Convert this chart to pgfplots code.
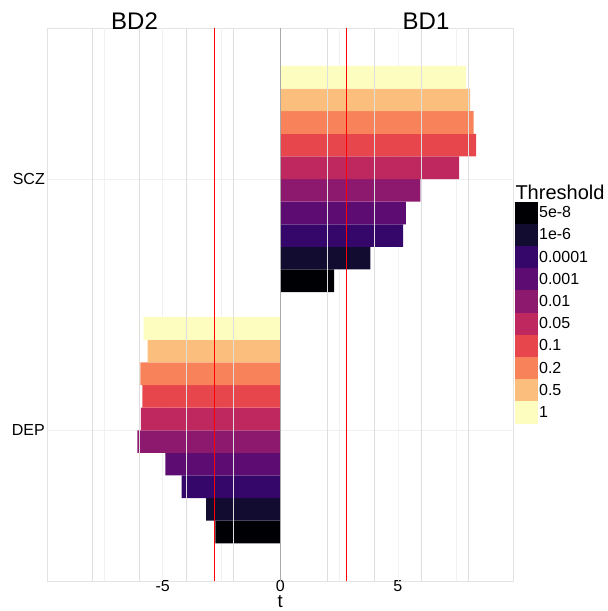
\documentclass[border=0pt]{standalone}
\usepackage{fontspec}
\setmainfont{Liberation Sans}
\usepackage{pgfplots}
\pgfplotsset{compat=1.18}
\definecolor{t1}{HTML}{000004}
\definecolor{t2}{HTML}{120C30}
\definecolor{t3}{HTML}{36076B}
\definecolor{t4}{HTML}{5D0D72}
\definecolor{t5}{HTML}{8C196D}
\definecolor{t6}{HTML}{BF275F}
\definecolor{t7}{HTML}{E8464D}
\definecolor{t8}{HTML}{F8825A}
\definecolor{t9}{HTML}{FBBE7C}
\definecolor{t10}{HTML}{FCFDBF}
\definecolor{gridmaj}{HTML}{DEDEDE}
\definecolor{gridmin}{HTML}{F1F1F1}
\definecolor{border}{HTML}{E3E3E3}
\definecolor{zeroline}{HTML}{A9A9A9}
\pgfplotsset{thrbar/.style 2 args={xbar, bar width=0.09, bar shift=#1, fill=#2, draw=none,
  legend image code/.code={\fill[##1] (0pt,-11.1pt) rectangle (22.3pt,11.1pt);}}}
\begin{document}
\begin{tikzpicture}
\useasboundingbox (0,0) rectangle (608pt,611pt);
\begin{axis}[
  at={(47.3pt,30pt)}, anchor=south west,
  scale only axis, width=466pt, height=552.7pt,
  xmin=-9.91, xmax=9.91, ymin=0.4, ymax=2.6,
  clip=false,
  xtick={-5,0,5}, xticklabels={-5,0,5},
  ytick={1,2}, yticklabels={DEP,SCZ},
  major tick length=0pt,
  ymajorgrids, major grid style={color=gridmin, line width=0.5pt},
  axis line style={draw=border, line width=0.6pt},
  tick label style={font=\fontsize{16}{16}\selectfont, text=black},
  xticklabel style={anchor=base, inner sep=0pt, yshift=-10pt},
  yticklabel style={anchor=east, inner sep=0pt, xshift=-2.3pt},
  xlabel={t},
  xlabel style={font=\fontsize{18.5}{18.5}\selectfont, inner sep=0pt, at={(axis description cs:0.5,0)}, anchor=base, yshift=-27pt},
  legend style={at={(axis description cs:1.0043,0.6863)}, anchor=north west, draw=none, fill=none,
    inner sep=0pt, outer sep=0pt, row sep=0pt, column sep=1.5pt,
    font=\fontsize{16}{16}\selectfont, nodes={inner sep=0pt, outer sep=0pt}},
  legend cell align=left,
]
\pgfplotsinvokeforeach{-7.5,-5,-2.5,2.5,5,7.5}{\draw[gridmin, line width=0.5pt] (axis cs:#1,0.4) -- (axis cs:#1,2.6);}
% threshold: (SCZ -> BD1 t, y=2), (DEP -> BD2 t, y=1)
\addplot[thrbar={-0.405}{t1}] coordinates {(2.29,2) (-2.76,1)};
\addlegendentry{5e-8}
\addplot[thrbar={-0.315}{t2}] coordinates {(3.83,2) (-3.16,1)};
\addlegendentry{1e-6}
\addplot[thrbar={-0.225}{t3}] coordinates {(5.22,2) (-4.20,1)};
\addlegendentry{0.0001}
\addplot[thrbar={-0.135}{t4}] coordinates {(5.34,2) (-4.89,1)};
\addlegendentry{0.001}
\addplot[thrbar={-0.045}{t5}] coordinates {(5.96,2) (-6.08,1)};
\addlegendentry{0.01}
\addplot[thrbar={0.045}{t6}] coordinates {(7.60,2) (-5.93,1)};
\addlegendentry{0.05}
\addplot[thrbar={0.135}{t7}] coordinates {(8.33,2) (-5.87,1)};
\addlegendentry{0.1}
\addplot[thrbar={0.225}{t8}] coordinates {(8.22,2) (-5.95,1)};
\addlegendentry{0.2}
\addplot[thrbar={0.315}{t9}] coordinates {(8.07,2) (-5.64,1)};
\addlegendentry{0.5}
\addplot[thrbar={0.405}{t10}] coordinates {(7.89,2) (-5.81,1)};
\addlegendentry{1}
\pgfplotsinvokeforeach{-8,-6,-4,-2,2,4,6,8}{\draw[gridmaj, line width=0.7pt] (axis cs:#1,0.4) -- (axis cs:#1,2.6);}
\draw[zeroline, line width=0.8pt] (axis cs:0,0.4) -- (axis cs:0,2.6);
\addplot[red, line width=0.9pt, forget plot] coordinates {(-2.81,0.4) (-2.81,2.6)};
\addplot[red, line width=0.9pt, forget plot] coordinates {(2.81,0.4) (2.81,2.6)};
\node[anchor=base, inner sep=0pt, font=\fontsize{24}{24}\selectfont] at (axis cs:-6.2,2.6) [yshift=-1.7pt] {BD2};
\node[anchor=base, inner sep=0pt, font=\fontsize{24}{24}\selectfont] at (axis cs:6.2,2.6) [yshift=-1.7pt] {BD1};
\node[anchor=base west, inner sep=0pt, font=\fontsize{20}{20}\selectfont] at (axis description cs:1.0043,0.6906) {Threshold};
\end{axis}
\end{tikzpicture}
\end{document}
